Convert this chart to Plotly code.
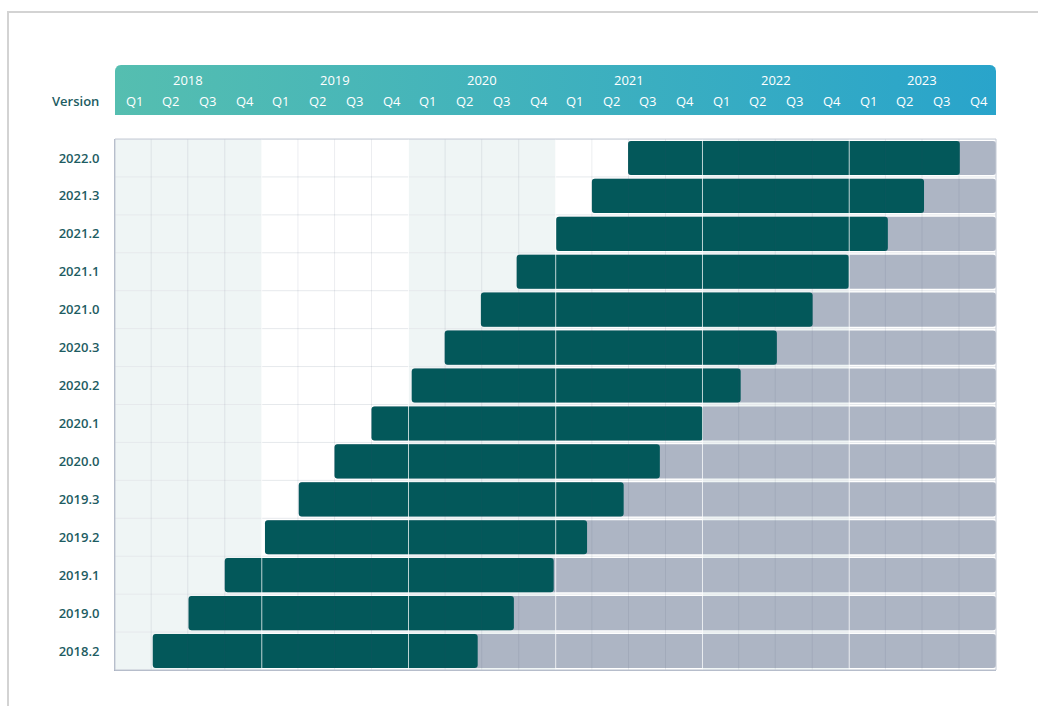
import numpy as np
import pandas as pd
import plotly.graph_objects as go

# ---------------- data ----------------
versions = ["2018.2", "2019.0", "2019.1", "2019.2", "2019.3", "2020.0", "2020.1",
            "2020.2", "2020.3", "2021.0", "2021.1", "2021.2", "2021.3", "2022.0"]
release_dates = ["2018-04-05", "2018-07-03", "2018-10-01", "2019-01-09", "2019-04-03",
                 "2019-07-01", "2019-10-01", "2020-01-09", "2020-03-31", "2020-06-29",
                 "2020-09-26", "2021-01-02", "2021-04-01", "2021-06-30"]
support_end_dates = ["2020-06-21", "2020-09-19", "2020-12-27", "2021-03-20", "2021-06-19",
                     "2021-09-17", "2022-01-02", "2022-04-06", "2022-07-05", "2022-10-02",
                     "2022-12-31", "2023-04-07", "2023-07-06", "2023-10-03"]
years = [2018, 2019, 2020, 2021, 2022, 2023]
quarter_labels = ["Q1", "Q2", "Q3", "Q4"]
axis_start = "2018-01-01"
axis_end = "2024-01-01"

# ---------------- styling ----------------
W, H = 1038, 706
ML, MR, MT, MB = 115, 42, 65, 36
PH = H - MT - MB            # 605
plot_top_px = 139
main_top = (H - MB - plot_top_px) / PH
header_bottom = (H - MB - 115) / PH

def py(px):  # pixel y -> paper y
    return (H - MB - px) / PH

DARK = "#03585a"
GREY = "#adb5c4"
TEXT = "#1d5c62"
FONT = "Open Sans"

rel = pd.to_datetime(release_dates)
eos = pd.to_datetime(support_end_dates)
end = pd.Timestamp(axis_end)
dur_support = ((eos - rel).total_seconds() * 1000).tolist()
dur_full = ((end - rel).total_seconds() * 1000).tolist()

fig = go.Figure()

fig.add_trace(go.Bar(
    y=versions, x=dur_full, base=release_dates, orientation="h",
    marker=dict(color=GREY, line=dict(width=0), cornerradius=3),
    width=0.9, showlegend=False, hoverinfo="skip", xaxis="x", yaxis="y"))
fig.add_trace(go.Bar(
    y=versions, x=dur_support, base=release_dates, orientation="h",
    marker=dict(color=DARK, line=dict(width=0), cornerradius=3),
    width=0.9, showlegend=False, xaxis="x", yaxis="y",
    customdata=np.stack([release_dates, support_end_dates], axis=1),
    hovertemplate="%{y}<br>%{customdata[0]} – %{customdata[1]}<extra></extra>"))

# header band with gradient and rounded top corners (in header-axis units 0..1)
hw, hh = 882.0, 50.0
r = 6.0
rx, ry = r / hw, r / hh
t = np.linspace(0, np.pi / 2, 8)
xs = [0, 1]
ys = [0, 0]
for a in t:
    xs.append(1 - rx + rx * np.cos(a)); ys.append(1 - ry + ry * np.sin(a))
for a in t:
    xs.append(rx - rx * np.sin(a)); ys.append(1 - ry + ry * np.cos(a))
xs.append(0); ys.append(0)
fig.add_trace(go.Scatter(
    x=xs, y=ys, xaxis="x2", yaxis="y2", mode="lines", fill="toself",
    line=dict(width=0, color="rgba(0,0,0,0)"),
    fillgradient=dict(type="horizontal",
                      colorscale=[[0, "#55beb0"], [1, "#29a4cb"]]),
    showlegend=False, hoverinfo="skip"))

shapes = []
for i, yr in enumerate(years):
    if i % 2 == 0:
        shapes.append(dict(type="rect", xref="x", yref="y domain",
                           x0=f"{yr}-01-01", x1=f"{yr + 1}-01-01", y0=0, y1=1,
                           fillcolor="#eff5f5", line=dict(width=0), layer="below"))
for i in range(len(versions) + 1):
    shapes.append(dict(type="line", xref="x domain", yref="y", x0=0, x1=1,
                       y0=i - 0.5, y1=i - 0.5,
                       line=dict(color="#e6e9ec", width=1), layer="below"))
quarters = pd.date_range(axis_start, axis_end, freq="QS")
for q in quarters[1:-1]:
    if q.month == 1:
        continue
    shapes.append(dict(type="line", xref="x", yref="y domain", x0=q, x1=q, y0=0, y1=1,
                       line=dict(color="rgba(70,80,105,0.10)", width=1), layer="above"))
for yr in years[1:]:
    shapes.append(dict(type="line", xref="x", yref="y domain",
                       x0=f"{yr}-01-01", x1=f"{yr}-01-01", y0=0, y1=1,
                       line=dict(color="rgba(255,255,255,0.75)", width=1), layer="above"))
shapes.append(dict(type="rect", xref="paper", yref="paper", x0=0, x1=1, y0=0, y1=main_top,
                   line=dict(color="#c4cad5", width=1), fillcolor="rgba(0,0,0,0)", layer="above"))
shapes.append(dict(type="rect", xref="paper", yref="paper",
                   x0=(8 - ML) / (W - ML - MR), x1=1.5, y0=-0.5, y1=py(12),
                   line=dict(color="#d3d3d3", width=2), fillcolor="rgba(0,0,0,0)", layer="below"))

annotations = []
for yr in years:
    annotations.append(dict(xref="x", yref="paper", x=f"{yr}-07-02", y=py(80),
                            text=str(yr), showarrow=False, xanchor="center", yanchor="middle",
                            font=dict(family=FONT, size=13, color="white", weight=500)))
    for qi, ql in enumerate(quarter_labels):
        q0 = pd.Timestamp(yr, 3 * qi + 1, 1)
        q1 = q0 + pd.DateOffset(months=3)
        mid = q0 + (q1 - q0) / 2
        annotations.append(dict(xref="x", yref="paper", x=mid, y=py(101), xshift=1.5,
                                text=ql, showarrow=False, xanchor="center", yanchor="middle",
                                font=dict(family=FONT, size=13, color="white")))
annotations.append(dict(xref="paper", yref="paper", x=(101 - ML) / (W - ML - MR), y=py(101),
                        text="Version", showarrow=False, xanchor="right", yanchor="middle",
                        font=dict(family=FONT, size=13, color=TEXT, weight=600)))

fig.update_layout(
    width=W, height=H,
    margin=dict(l=ML, r=MR, t=MT, b=MB),
    paper_bgcolor="white", plot_bgcolor="white",
    barmode="overlay",
    font=dict(family=FONT),
    xaxis=dict(type="date", range=[axis_start, axis_end], domain=[0, 1],
               showgrid=False, showticklabels=False, zeroline=False, ticks="",
               showline=True, linecolor="#a9b1c1", linewidth=1, anchor="y"),
    yaxis=dict(type="category", categoryorder="array", categoryarray=versions,
               range=[-0.5, len(versions) - 0.5], domain=[0, main_top],
               showgrid=False, zeroline=False, ticks="", ticklabelstandoff=12,
               showline=True, linecolor="#a9b1c1", linewidth=1,
               tickfont=dict(family=FONT, size=13, color=TEXT, weight=600)),
    xaxis2=dict(range=[0, 1], domain=[0, 1], anchor="y2", visible=False, fixedrange=True),
    yaxis2=dict(range=[0, 1], domain=[header_bottom, 1], anchor="x2", visible=False,
                fixedrange=True),
    shapes=shapes, annotations=annotations,
)

fig.write_html("out.html")
